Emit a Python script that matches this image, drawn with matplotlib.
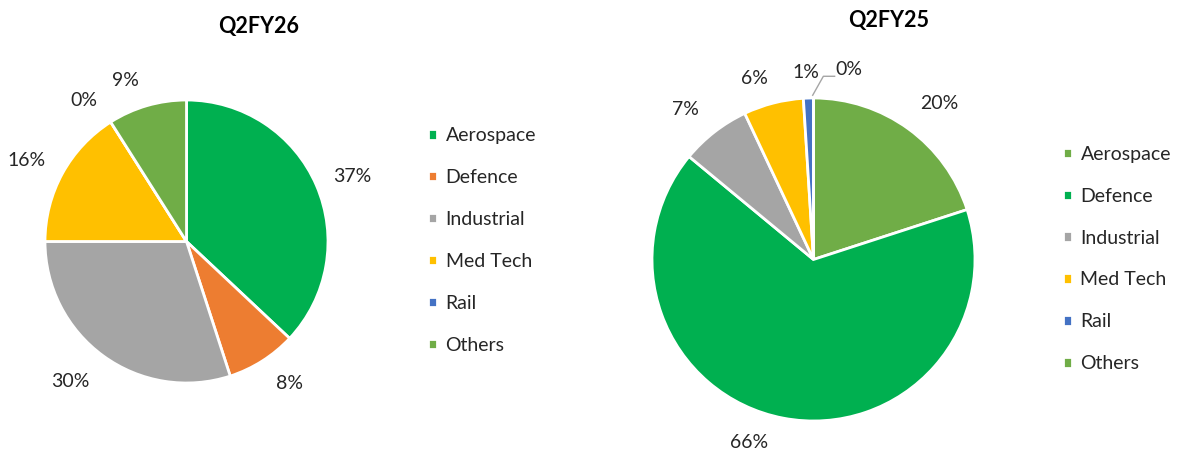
import numpy as np
import matplotlib
matplotlib.use("Agg")
import matplotlib.pyplot as plt

plt.rcParams['font.family'] = ['Lato', 'DejaVu Sans']

# --- dados ---
segmentos = ['Aerospace', 'Defence', 'Industrial', 'Med Tech', 'Rail', 'Others']
q2fy26 = [37, 8, 30, 16, 0, 9]
q2fy25 = [20, 66, 7, 6, 1, 0]

cores_fy26 = ['#00B050', '#ED7D31', '#A5A5A5', '#FFC000', '#4472C4', '#70AD47']
cores_fy25 = ['#70AD47', '#00B050', '#A5A5A5', '#FFC000', '#4472C4', '#70AD47']

# ajuste fino dos rótulos: (desvio de ângulo em graus, distância em raios)
ajuste_fy26 = [(-2, 1.26), (3.6, 1.24), (-3.7, 1.29), (1.8, 1.265), (3.6, 1.23), (4.6, 1.22)]
ajuste_fy25 = [(-3, 1.24), (-8.6, 1.20), (2.7, 1.22), (3.5, 1.18), (0.6, 1.162), (-10.6, 1.2)]

W, H = 1182, 451
fig = plt.figure(figsize=(W / 100, H / 100), dpi=100)


def eixo_pizza(cx, cy, r):
    # posiciona o eixo em pixels com o centro e raio da pizza
    ax = fig.add_axes([(cx - r) / W, (H - cy - r) / H, 2 * r / W, 2 * r / H])
    ax.set_xlim(-1, 1)
    ax.set_ylim(-1, 1)
    ax.set_axis_off()
    return ax


def desenhar_pizza(ax, valores, cores, ajustes):
    wedges, _ = ax.pie(valores, colors=cores, startangle=90, counterclock=False,
                       radius=1, wedgeprops=dict(edgecolor='white', linewidth=2))
    ax.set_xlim(-1, 1)
    ax.set_ylim(-1, 1)
    posicoes = []
    for w, v, (da, dist) in zip(wedges, valores, ajustes):
        ang = np.deg2rad((w.theta1 + w.theta2) / 2 + da)
        x, y = dist * np.cos(ang), dist * np.sin(ang)
        ax.text(x, y, f"{v}%", ha='center', va='center', fontsize=14,
                color='#262626', clip_on=False)
        posicoes.append((x, y))
    return wedges, posicoes


def legenda(wedges, x, y):
    fig.legend(wedges, segmentos, loc='center left', bbox_to_anchor=(x / W, 1 - y / H),
               frameon=False, fontsize=14, handlelength=0.45, handleheight=0.45,
               handletextpad=0.45, labelspacing=1.28, borderpad=0, borderaxespad=0,
               labelcolor='#262626')


# --- Q2FY26 ---
ax1 = eixo_pizza(186.5, 241.5, 141.5)
w1, _ = desenhar_pizza(ax1, q2fy26, cores_fy26, ajuste_fy26)
fig.text(259 / W, 1 - 27 / H, 'Q2FY26', ha='center', va='center',
         fontsize=15.5, fontweight='bold', color='#000000')
legenda(w1, 428, 240.5)

# --- Q2FY25 ---
ax2 = eixo_pizza(813.5, 259.5, 161.5)
w2, pos2 = desenhar_pizza(ax2, q2fy25, cores_fy25, ajuste_fy25)
fig.text(889 / W, 1 - 20 / H, 'Q2FY25', ha='center', va='center',
         fontsize=15.5, fontweight='bold', color='#000000')
legenda(w2, 1063, 259)

# linha guia do rótulo de 0% (Others)
lx, ly = pos2[5]
ax2.plot([-0.005, 0.061, lx - 0.09], [1.017, ly - 0.045, ly - 0.045],
         color='#A5A5A5', linewidth=1, clip_on=False)

plt.savefig('out.png', dpi=100, facecolor='white')
